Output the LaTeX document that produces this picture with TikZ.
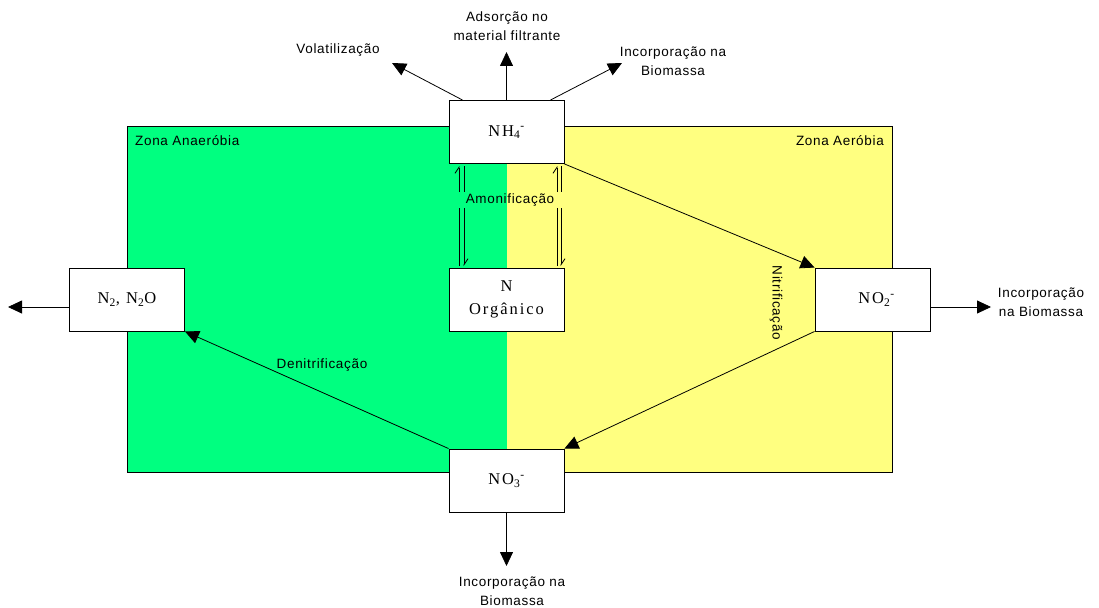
\documentclass[tikz,border=0pt]{standalone}
\usepackage{fontspec}
\setmainfont{Liberation Serif}
\newfontfamily\lab[LetterSpace=5]{Liberation Sans}
\newfontfamily\bx[LetterSpace=12]{Liberation Serif}
\usetikzlibrary{arrows.meta}
\definecolor{zgreen}{RGB}{0,255,128}
\definecolor{zyellow}{RGB}{255,255,128}
\tikzset{
 box/.style={draw, fill=white, line width=0.9pt, minimum width=115pt, minimum height=63pt, inner sep=0pt, font=\bx\fontsize{16.5}{23}\selectfont, align=center},
 lbl/.style={font=\lab\fontsize{13.5}{18.5}\selectfont, inner sep=0pt, align=center},
 conn/.style={line width=0.8pt, -{Triangle[length=14pt,width=13pt]}},
 harp/.style={line width=0.8pt, -{Straight Barb[left,length=6pt,width=8pt]}},
 plainline/.style={line width=0.8pt}
}
\begin{document}
\begin{tikzpicture}[x=1pt,y=-1pt]
\useasboundingbox (0,0) rectangle (1099,607);
% zones
\fill[zgreen] (127,126) rectangle (507,472);
\fill[zyellow] (507,126) rectangle (892,472);
\draw[line width=0.9pt] (127,126) rectangle (892,472);
\node[lbl, anchor=west] (zan) at (135,141) {Zona Anaeróbia};
\node[lbl, anchor=east] (zae) at (884,141) {Zona Aeróbia};
% boxes
\node[box] (nh4) at (506.5,132) {NH\textsubscript{4}\textsuperscript{-}};
\node[box] (norg) at (506.5,299.5) {N\\Orgânico};
\node[box] (n2) at (127,299.5) {N\textsubscript{2}, N\textsubscript{2}O};
\node[box] (no2) at (872.5,299.5) {\hspace{8pt}NO\textsubscript{2}\textsuperscript{-}};
\node[box] (no3) at (506.5,480.5) {NO\textsubscript{3}\textsuperscript{-}};
% free ends
\coordinate (volT) at (392,63);
\coordinate (adsT) at (506.5,52);
\coordinate (incT) at (622,63);
\coordinate (n2T) at (8,307);
\coordinate (no2T) at (991,307);
\coordinate (no3T) at (506.5,566);
% top arrows
\draw[conn] ([xshift=14pt]nh4.north west) -- (volT);
\draw[conn] (nh4.north) -- (adsT);
\draw[conn] ([xshift=-14pt]nh4.north east) -- (incT);
\node[lbl] (vol) at (338,50) {Volatilização};
\node[lbl] (ads) at (507,26) {Adsorção no\\material filtrante};
\node[lbl] (inc) at (673,61) {Incorporação na\\Biomassa};
% side arrows
\draw[conn] ([yshift=-7.5pt]n2.west) -- (n2T);
\draw[conn] ([yshift=-7.5pt]no2.east) -- (no2T);
\node[lbl] (inc2) at (1041,302) {Incorporação\\na Biomassa};
\draw[conn] (no3.south) -- (no3T);
\node[lbl] (inc3) at (512,591) {Incorporação na\\Biomassa};
% nitrification / denitrification
\draw[conn] (nh4.south east) -- (no2.north west);
\draw[conn] (no2.south west) -- (no3.north east);
\draw[conn] (no3.north west) -- (n2.south east);
\node[lbl, rotate=-90] (nit) at (776,303) {Nitrificação};
\node[lbl] (den) at (322,365) {Denitrificação};
% ammonification harpoons
\coordinate (a1) at (459,266); \coordinate (a2) at (459,208);
\coordinate (a3) at (459,192); \coordinate (a4) at (459,166);
\draw[plainline] (a1) -- (a2); \draw[harp] (a3) -- (a4);
\coordinate (b1) at (464,166); \coordinate (b2) at (464,192);
\coordinate (b3) at (464,208); \coordinate (b4) at (464,266);
\draw[plainline] (b1) -- (b2); \draw[harp] (b3) -- (b4);
\coordinate (c1) at (557,266); \coordinate (c2) at (557,208);
\coordinate (c3) at (557,192); \coordinate (c4) at (557,166);
\draw[plainline] (c1) -- (c2); \draw[harp] (c3) -- (c4);
\coordinate (d1) at (561,166); \coordinate (d2) at (561,192);
\coordinate (d3) at (561,208); \coordinate (d4) at (561,266);
\draw[plainline] (d1) -- (d2); \draw[harp] (d3) -- (d4);
\node[lbl] (amo) at (510,200) {Amonificação};
\end{tikzpicture}
\end{document}
